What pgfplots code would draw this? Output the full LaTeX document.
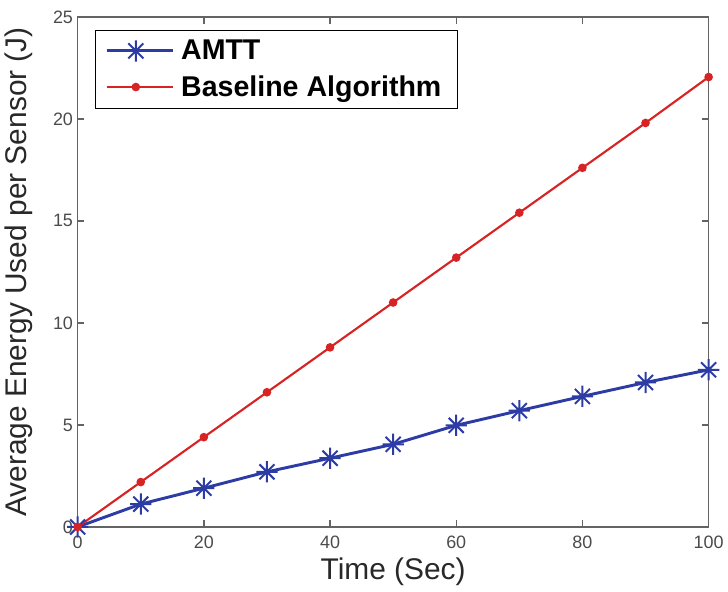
\documentclass[border=0pt]{standalone}
\usepackage{fontspec}
\setmainfont{Liberation Sans}
\usepackage{pgfplots}
\pgfplotsset{compat=1.18}
\pgfdeclareplotmark{mstar}{%
  \pgfpathmoveto{\pgfqpoint{-\pgfplotmarksize}{0pt}}\pgfpathlineto{\pgfqpoint{\pgfplotmarksize}{0pt}}%
  \pgfpathmoveto{\pgfqpoint{0pt}{-\pgfplotmarksize}}\pgfpathlineto{\pgfqpoint{0pt}{\pgfplotmarksize}}%
  \pgfpathmoveto{\pgfqpoint{-0.707\pgfplotmarksize}{-0.707\pgfplotmarksize}}\pgfpathlineto{\pgfqpoint{0.707\pgfplotmarksize}{0.707\pgfplotmarksize}}%
  \pgfpathmoveto{\pgfqpoint{-0.707\pgfplotmarksize}{0.707\pgfplotmarksize}}\pgfpathlineto{\pgfqpoint{0.707\pgfplotmarksize}{-0.707\pgfplotmarksize}}%
  \pgfusepathqstroke}
\definecolor{mblue}{RGB}{45,60,165}
\definecolor{mred}{RGB}{215,35,35}
\definecolor{axgray}{RGB}{100,100,100}
\definecolor{tickgray}{RGB}{75,75,75}
\definecolor{labgray}{RGB}{40,40,40}
\begin{document}
\begin{tikzpicture}
\begin{axis}[
  name=ax,
  scale only axis,
  width=475pt, height=384pt,
  xmin=0, xmax=100, ymin=0, ymax=25,
  xtick={0,20,40,60,80,100},
  ytick={0,5,10,15,20,25},
  tick align=inside,
  major tick length=5pt,
  axis line style={axgray, line width=1.2pt},
  every tick/.style={axgray, line width=1pt},
  tick label style={font=\fontsize{13.5}{16}\selectfont, text=tickgray},
  xticklabel style={yshift=-3.5pt},
  /pgf/number format/assume math mode=true,
  xlabel={Time (Sec)},
  ylabel={Average Energy Used per Sensor (J)},
  every axis x label/.style={at={(axis description cs:0.5,-0.088)}, anchor=center,
    font=\fontsize{22.5}{26}\selectfont, text=labgray},
  every axis y label/.style={at={(axis description cs:-0.094,0.5)}, anchor=center, rotate=90,
    font=\fontsize{22.5}{26}\selectfont, text=labgray},
  legend style={at={(0.028,0.975)}, anchor=north west, draw=black, line width=0.8pt,
    font=\fontsize{21.5}{24}\selectfont\bfseries, inner xsep=7pt, inner ysep=5.5pt, row sep=6.5pt,
    nodes={inner xsep=5pt}},
  legend cell align=left,
  legend image code/.code={\draw[mark repeat=2,mark phase=2,#1] plot coordinates {(0pt,0pt) (22pt,0pt) (44pt,0pt)};\path (0pt,0pt) -- (50pt,0pt);},
  clip=false,
]
\addplot[color=mblue, line width=2.2pt, mark=mstar, mark size=8pt, mark options={line width=1.5pt}]
  coordinates {(0,0) (10,1.12) (20,1.9) (30,2.7) (40,3.37) (50,4.05) (60,4.98) (70,5.7) (80,6.4) (90,7.08) (100,7.7)};
\addlegendentry{AMTT}
\addplot[color=mred, line width=1.6pt, mark=*, mark size=2.4pt, mark options={fill=mred, draw=mred}]
  coordinates {(0,0) (10,2.2) (20,4.4) (30,6.6) (40,8.8) (50,11.0) (60,13.2) (70,15.4) (80,17.6) (90,19.8) (100,22.05)};
\addlegendentry{Baseline Algorithm\hspace{10pt}}
\end{axis}
\path ([xshift=-57.7pt,yshift=-48.7pt]ax.south west) rectangle ([xshift=12.7pt,yshift=12.7pt]ax.north east);
\end{tikzpicture}
\end{document}
